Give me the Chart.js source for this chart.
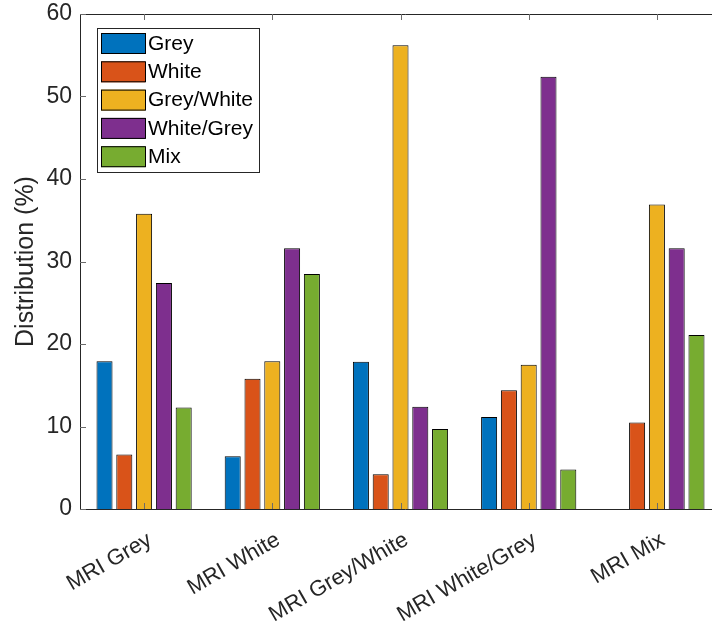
<!DOCTYPE html>
<html>
<head>
<meta charset="utf-8">
<script src="https://cdn.jsdelivr.net/npm/chart.js@4.4.1/dist/chart.umd.min.js"></script>
<style>
    html, body { margin: 0; padding: 0; background: #fff; overflow: hidden; }
    #wrap { width: 712px; height: 626px; overflow: hidden; }
</style>
</head>
<body>
<div id="wrap"><canvas id="barChart" width="740" height="626"></canvas></div>
<script>
// categories (MRI classes) and the five distribution series, in %
var categories = ['MRI Grey', 'MRI White', 'MRI Grey/White', 'MRI White/Grey', 'MRI Mix'];
var seriesNames = ['Grey', 'White', 'Grey/White', 'White/Grey', 'Mix'];
var greyVals = [17.9, 6.4, 17.85, 11.15, 0];
var whiteVals = [6.6, 15.8, 4.2, 14.4, 10.5];
var greyWhiteVals = [35.8, 17.9, 56.2, 17.5, 36.9];
var whiteGreyVals = [27.4, 31.6, 12.4, 52.4, 31.6];
var mixVals = [12.3, 28.5, 9.7, 4.8, 21.1];
var yTicks = [0, 10, 20, 30, 40, 50, 60];

var colors = ['#0072BD', '#D95319', '#EDB120', '#7E2F8E', '#77AC30'];
var axisColor = '#262626';
var font = 'Liberation Sans, Arial, Helvetica, sans-serif';

// axes lines with inward ticks, drawn over the bars like matlab
// (right side of the box falls outside the picture)
var boxPlugin = {
    id: 'boxAxes',
    afterDatasetsDraw: function (chart) {
        var ctx = chart.ctx;
        var a = chart.chartArea;
        var x = chart.scales.x, y = chart.scales.y;
        var tl = 6;
        var t = Math.round(a.top) + 0.5, b = Math.round(a.bottom) + 0.5, l = Math.round(a.left) + 0.5;
        ctx.save();
        ctx.lineWidth = 1;
        ctx.strokeStyle = axisColor;
        ctx.beginPath();
        ctx.moveTo(a.right + 10, t); ctx.lineTo(l, t); ctx.lineTo(l, b); ctx.lineTo(a.right + 10, b);
        ctx.stroke();
        ctx.strokeStyle = '#6b6b6b';
        ctx.beginPath();
        for (var i = 0; i < categories.length; i++) {
            var px = Math.round(x.getPixelForValue(i)) + 0.5;
            ctx.moveTo(px, a.bottom); ctx.lineTo(px, a.bottom - tl);
            ctx.moveTo(px, a.top); ctx.lineTo(px, a.top + tl);
        }
        yTicks.forEach(function (v) {
            var py = Math.round(y.getPixelForValue(v)) + 0.5;
            ctx.moveTo(a.left, py); ctx.lineTo(a.left + tl, py);
        });
        ctx.stroke();
        ctx.restore();
    },
    afterDraw: function (chart) {
        // legend in the upper-left corner of the axes
        var ctx = chart.ctx;
        var a = chart.chartArea;
        var lx = a.left + 17, ly = a.top + 14;
        var w = 162, h = 144;
        ctx.save();
        ctx.fillStyle = '#fff';
        ctx.fillRect(lx, ly, w, h);
        ctx.strokeStyle = axisColor;
        ctx.lineWidth = 1;
        ctx.strokeRect(lx + 0.5, ly + 0.5, w, h);
        ctx.font = '21px ' + font;
        ctx.textBaseline = 'middle';
        chart.data.datasets.forEach(function (ds, i) {
            var sy = ly + 5 + i * 28.3;
            ctx.fillStyle = ds.backgroundColor;
            ctx.fillRect(lx + 4, sy, 44, 21);
            ctx.strokeStyle = '#000';
            ctx.strokeRect(lx + 4.5, sy + 0.5, 44, 20);
            ctx.fillStyle = '#000';
            ctx.fillText(ds.label, lx + 51, sy + 11);
        });
        ctx.restore();
    }
};

function initChart() {
    var allVals = [greyVals, whiteVals, greyWhiteVals, whiteGreyVals, mixVals];
    var datasets = seriesNames.map(function (name, i) {
        return {
            label: name,
            data: allVals[i],
            backgroundColor: colors[i],
            borderColor: '#000',
            borderWidth: 1,
            categoryPercentage: 0.772,
            barPercentage: 0.81
        };
    });

    var ctx = document.getElementById('barChart');
    var myBarChart = new Chart(ctx, {
        type: 'bar',
        data: {
            labels: categories,
            datasets: datasets
        },
        options: {
            responsive: false,
            animation: false,
            layout: { padding: { top: 14, right: 19, bottom: 0, left: 0 } },
            plugins: {
                legend: { display: false },
                tooltip: { enabled: false }
            },
            scales: {
                x: {
                    grid: { display: false },
                    border: { display: false },
                    ticks: {
                        color: axisColor,
                        font: { family: font, size: 22 },
                        minRotation: 30,
                        maxRotation: 30,
                        autoSkip: false,
                        labelOffset: 6,
                        padding: 10
                    },
                    afterFit: function (scale) {
                        scale.height = 117;
                        scale.paddingLeft = 0;
                        scale.paddingRight = 0;
                    }
                },
                y: {
                    min: 0,
                    max: 60,
                    grid: { display: false },
                    border: { display: false },
                    afterBuildTicks: function (scale) {
                        scale.ticks = yTicks.map(function (v) { return { value: v }; });
                    },
                    ticks: {
                        color: axisColor,
                        font: { family: font, size: 23 },
                        padding: 0
                    },
                    title: {
                        display: true,
                        text: 'Distribution (%)',
                        color: axisColor,
                        font: { family: font, size: 25 },
                        padding: { top: 11, bottom: 0 }
                    },
                    afterFit: function (scale) {
                        scale.width = 80;
                        scale.paddingTop = 0;
                        scale.paddingBottom = 0;
                    }
                }
            }
        },
        plugins: [boxPlugin]
    });
}

initChart();
</script>
</body>
</html>
